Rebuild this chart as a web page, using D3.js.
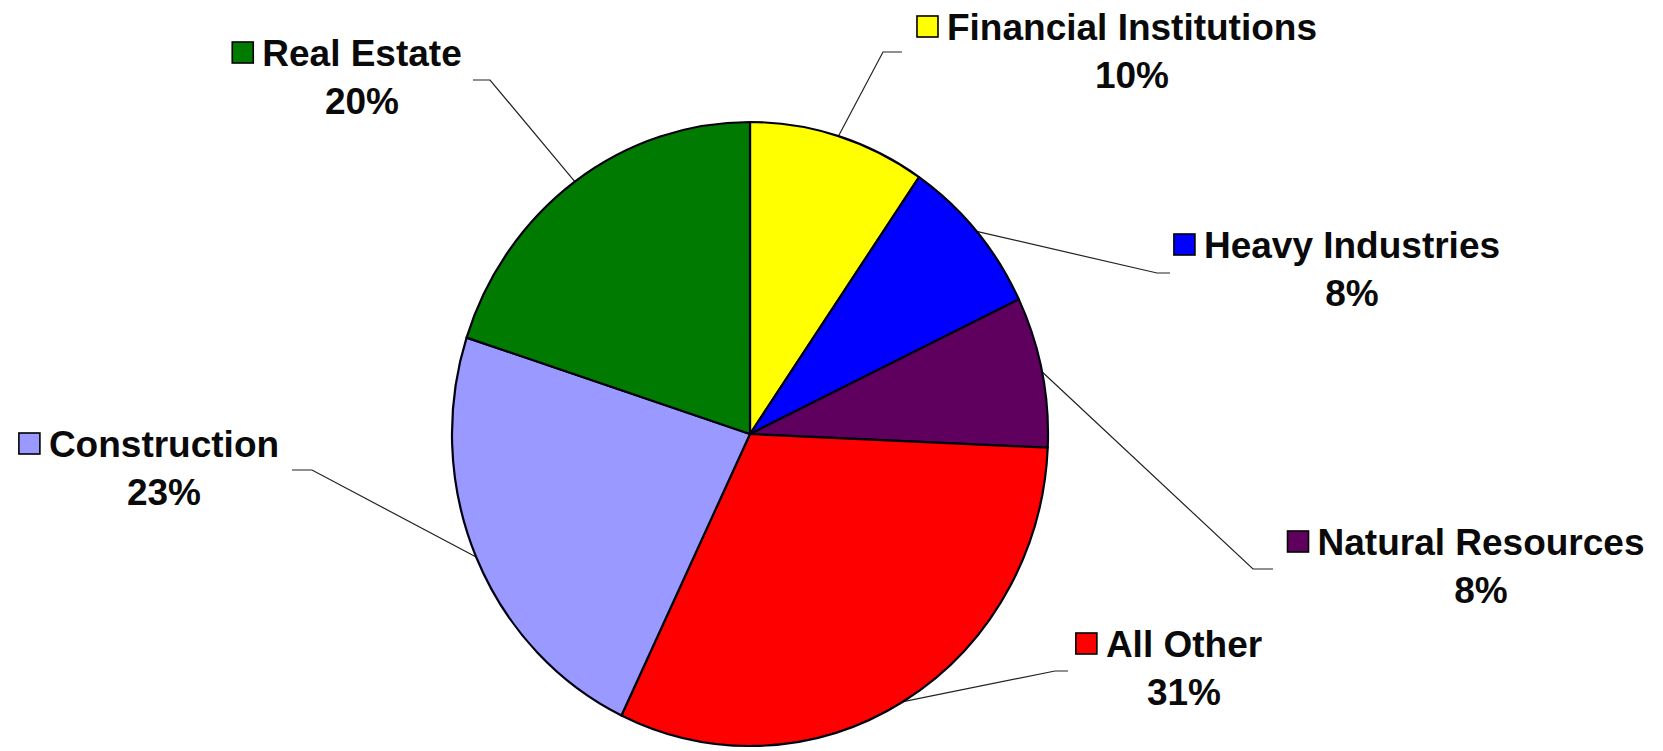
<!DOCTYPE html>
<html>
<head>
<meta charset="utf-8">
<script src="https://cdn.jsdelivr.net/npm/d3@7"></script>
<style>
  html, body { margin: 0; padding: 0; background: #ffffff; }
  svg { display: block; }
</style>
</head>
<body>
<svg id="chart" width="1663" height="751"></svg>
<script>
// ---- data ----
const categories = ["Financial Institutions", "Heavy Industries", "Natural Resources", "All Other", "Construction", "Real Estate"];
const shares = [9.6, 8.3, 7.8, 31.4, 22.9, 20.0];
const colors = ["#FFFF00", "#0000FF", "#5F005F", "#FF0000", "#9999FF", "#007A00"];

// ---- layout (label anchors and leader-line bends, not data) ----
const labelLayout = [
  { tx: 1132, ty: 40,  bend: [883, 52],   end: [902, 52] },
  { tx: 1352, ty: 258, bend: [1157, 273], end: [1170, 273] },
  { tx: 1481, ty: 555, bend: [1253, 569], end: [1273, 569] },
  { tx: 1184, ty: 657, bend: [1055, 671], end: [1068, 671] },
  { tx: 164,  ty: 457, bend: [312, 470],  end: [292, 470] },
  { tx: 362,  ty: 66,  bend: [490, 80],   end: [473, 80] }
];

const W = 1663, H = 751;
const cx = 750, cy = 434, rx = 298, ry = 312;
const svg = d3.select("#chart");

const pie = d3.pie().sort(null).value(d => d).startAngle(0).endAngle(2 * Math.PI);
const arcs = pie(shares);
const arc = d3.arc().innerRadius(0).outerRadius(rx);

// leader lines (drawn under the pie)
const edgePoint = a => {
  const mid = (a.startAngle + a.endAngle) / 2;
  return [cx + rx * Math.sin(mid), cy - ry * Math.cos(mid)];
};
const line = d3.line();
svg.append("g").selectAll("path")
  .data(arcs)
  .join("path")
  .attr("d", (a, i) => line([edgePoint(a), labelLayout[i].bend, labelLayout[i].end]))
  .attr("fill", "none")
  .attr("stroke", "#222")
  .attr("stroke-width", 1.2);

// pie slices (slightly elliptical like the reference)
const g = svg.append("g").attr("transform", `translate(${cx},${cy}) scale(1,${ry / rx})`);
g.selectAll("path")
  .data(arcs)
  .join("path")
  .attr("d", arc)
  .attr("fill", (d, i) => colors[i])
  .attr("stroke", "#000010")
  .attr("stroke-width", 2.2)
  .attr("vector-effect", "non-scaling-stroke")
  .attr("stroke-linejoin", "round");

// labels
const fmt = v => Math.round(v) + "%";
const font = "'Liberation Sans', Arial, sans-serif";
const lg = svg.append("g");
categories.forEach((c, i) => {
  const L = labelLayout[i];
  const t = lg.append("text")
    .attr("x", L.tx).attr("y", L.ty)
    .attr("text-anchor", "middle")
    .attr("font-family", font)
    .attr("font-weight", "bold")
    .attr("font-size", 37)
    .attr("fill", "#0a0a0a")
    .text(c);
  const w = t.node().getComputedTextLength();
  lg.append("rect")
    .attr("x", L.tx - w / 2 - 30).attr("y", L.ty - 24)
    .attr("width", 21).attr("height", 21)
    .attr("fill", colors[i])
    .attr("stroke", "#000")
    .attr("stroke-width", 1.6);
  lg.append("text")
    .attr("x", L.tx).attr("y", L.ty + 48)
    .attr("text-anchor", "middle")
    .attr("font-family", font)
    .attr("font-weight", "bold")
    .attr("font-size", 37)
    .attr("fill", "#0a0a0a")
    .text(fmt(shares[i]));
});
</script>
</body>
</html>
